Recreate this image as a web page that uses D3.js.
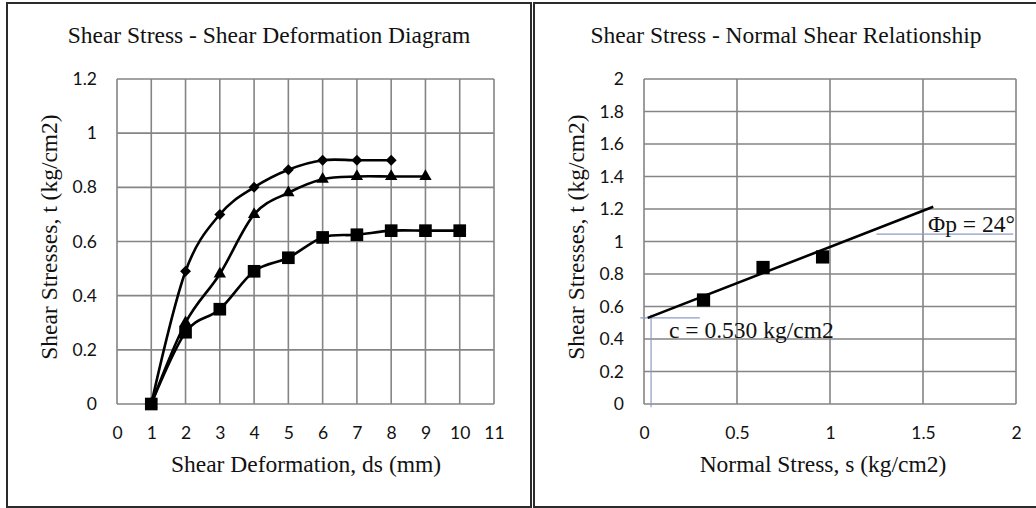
<!DOCTYPE html>
<html>
<head>
<meta charset="utf-8">
<script src="https://cdn.jsdelivr.net/npm/d3@7"></script>
<style>
  body { margin: 0; background: #fff; }
  text { fill: #111; }
</style>
</head>
<body>
<svg id="chart" width="1036" height="508"></svg>
<script>
// ---- Shear stress vs. shear deformation (three normal loads) ----
const deformation = [1, 2, 3, 4, 5, 6, 7, 8, 9, 10];
const stressDiamond = [0, 0.49, 0.70, 0.80, 0.865, 0.90, 0.90, 0.90];
const stressTriangle = [0, 0.30, 0.48, 0.70, 0.78, 0.83, 0.84, 0.84, 0.84];
const stressSquare = [0, 0.265, 0.35, 0.49, 0.54, 0.615, 0.625, 0.64, 0.64, 0.64];
const leftXTicks = [0, 1, 2, 3, 4, 5, 6, 7, 8, 9, 10, 11];
const leftYTicks = [0, 0.2, 0.4, 0.6, 0.8, 1, 1.2];

// ---- Peak shear stress vs. normal stress ----
const normalStress = [0.32, 0.64, 0.96];
const peakShear = [0.64, 0.84, 0.905];
const rightXTicks = [0, 0.5, 1, 1.5, 2];
const rightYTicks = [0, 0.2, 0.4, 0.6, 0.8, 1, 1.2, 1.4, 1.6, 1.8, 2];
const cohesion = 0.530;          // kg/cm2
const frictionAngleDeg = 24;     // degrees
const envelopeExtent = [0.02, 1.555];

const svg = d3.select("#chart");
const SERIF = "'Liberation Serif', 'Times New Roman', serif";
const SANS = "Lato, 'Open Sans', sans-serif";
const GRID = "#858585";

// panel frames
svg.append("rect").attr("x", 7).attr("y", 3).attr("width", 524).attr("height", 504)
  .attr("fill", "none").attr("stroke", "#2b2b2b").attr("stroke-width", 2);
svg.append("rect").attr("x", 534).attr("y", 3).attr("width", 520).attr("height", 504)
  .attr("fill", "none").attr("stroke", "#2b2b2b").attr("stroke-width", 2);

function drawFrame(g, x, y, xTicks, yTicks, fmtX, fmtY) {
  const [x0, x1] = x.range();
  const [y0, y1] = y.range();
  // vertical grid lines
  g.append("g").selectAll("line").data(xTicks).join("line")
    .attr("x1", d => x(d)).attr("x2", d => x(d))
    .attr("y1", y0).attr("y2", y1)
    .attr("stroke", GRID).attr("stroke-width", 1.6);
  // horizontal grid lines
  g.append("g").selectAll("line").data(yTicks).join("line")
    .attr("x1", x0).attr("x2", x1)
    .attr("y1", d => y(d)).attr("y2", d => y(d))
    .attr("stroke", GRID).attr("stroke-width", 1.6);

  const ax = g.append("g").attr("transform", `translate(0,${y0})`)
    .call(d3.axisBottom(x).tickValues(xTicks).tickSize(0).tickPadding(23).tickFormat(fmtX));
  const ay = g.append("g").attr("transform", `translate(${x0},0)`)
    .call(d3.axisLeft(y).tickValues(yTicks).tickSize(0).tickPadding(20).tickFormat(fmtY));
  [ax, ay].forEach(a => {
    a.select(".domain").remove();
    a.selectAll("text").attr("font-family", SANS).attr("font-size", 17.5).attr("fill", "#1e1e1e");
  });
}

function titles(g, cx, title, xTitle, yTitle, yTitleX) {
  g.append("text").attr("x", cx).attr("y", 43).attr("text-anchor", "middle")
    .attr("font-family", SERIF).attr("font-size", 23.5).text(title);
  g.append("text").attr("x", cx + 37).attr("y", 472).attr("text-anchor", "middle")
    .attr("font-family", SERIF).attr("font-size", 23.5).text(xTitle);
  g.append("text").attr("transform", `translate(${yTitleX},237) rotate(-90)`)
    .attr("text-anchor", "middle")
    .attr("font-family", SERIF).attr("font-size", 23.5).text(yTitle);
}

// ================= left chart =================
const gl = svg.append("g");
const xL = d3.scaleLinear().domain([0, 11]).range([117, 494]);
const yL = d3.scaleLinear().domain([0, 1.2]).range([404, 79]);
drawFrame(gl, xL, yL, leftXTicks, leftYTicks, d3.format("d"), d => d3.format("~g")(d));
titles(gl, 269, "Shear Stress - Shear Deformation Diagram",
  "Shear Deformation, ds (mm)", "Shear Stresses, t (kg/cm2)", 57);

const smooth = d3.line().curve(d3.curveCardinal.tension(0))
  .x(d => xL(d[0])).y(d => yL(d[1]));

const series = [
  { vals: stressDiamond, symbol: d3.symbolSquare, size: 60, rotate: 45 },
  { vals: stressTriangle, symbol: d3.symbolTriangle, size: 66, rotate: 0 },
  { vals: stressSquare, symbol: d3.symbolSquare, size: 160, rotate: 0 }
];
series.forEach(s => {
  const pts = s.vals.map((v, i) => [deformation[i], v]);
  gl.append("path").attr("d", smooth(pts))
    .attr("fill", "none").attr("stroke", "#000").attr("stroke-width", 2.6);
  gl.append("g").selectAll("path").data(pts).join("path")
    .attr("d", d3.symbol(s.symbol, s.size))
    .attr("transform", d => `translate(${xL(d[0])},${yL(d[1])}) rotate(${s.rotate})`)
    .attr("fill", "#000");
});

// ================= right chart =================
const gr = svg.append("g");
const xR = d3.scaleLinear().domain([0, 2]).range([644, 1016]);
const yR = d3.scaleLinear().domain([0, 2]).range([404, 79]);
drawFrame(gr, xR, yR, rightXTicks, rightYTicks, d => d3.format("~g")(d), d => d3.format("~g")(d));
titles(gr, 786, "Shear Stress - Normal Shear Relationship",
  "Normal Stress, s (kg/cm2)", "Shear Stresses, t (kg/cm2)", 584);

// guide lines for the annotations
const GUIDE = "#8d9cc6";
gr.append("line").attr("x1", xR(-0.02)).attr("x2", xR(0.30))
  .attr("y1", yR(cohesion)).attr("y2", yR(cohesion))
  .attr("stroke", GUIDE).attr("stroke-width", 1.2);
gr.append("line").attr("x1", xR(0.038)).attr("x2", xR(0.038))
  .attr("y1", yR(cohesion + 0.02)).attr("y2", yR(-0.02))
  .attr("stroke", GUIDE).attr("stroke-width", 1.2);
gr.append("line").attr("x1", xR(1.25)).attr("x2", xR(1.985))
  .attr("y1", yR(1.046)).attr("y2", yR(1.046))
  .attr("stroke", GUIDE).attr("stroke-width", 1.2);

// failure envelope: t = c + s * tan(phi), starting from the cohesion value
const slope = Math.tan(frictionAngleDeg * Math.PI / 180);
const envelope = envelopeExtent.map(s => [s, cohesion + (s - envelopeExtent[0]) * slope]);
gr.append("path")
  .attr("d", d3.line().x(d => xR(d[0])).y(d => yR(d[1]))(envelope))
  .attr("fill", "none").attr("stroke", "#000").attr("stroke-width", 2.6);

gr.append("g").selectAll("path").data(normalStress.map((s, i) => [s, peakShear[i]])).join("path")
  .attr("d", d3.symbol(d3.symbolSquare, 175))
  .attr("transform", d => `translate(${xR(d[0])},${yR(d[1])})`)
  .attr("fill", "#000");

gr.append("text").attr("x", 669).attr("y", 338)
  .attr("font-family", SERIF).attr("font-size", 23.5)
  .text(`c = ${cohesion.toFixed(3)} kg/cm2`);
gr.append("text").attr("x", 928).attr("y", 232)
  .attr("font-family", SERIF).attr("font-size", 23.5)
  .text(`\u03A6p = ${frictionAngleDeg}\u00B0`);
</script>
</body>
</html>
